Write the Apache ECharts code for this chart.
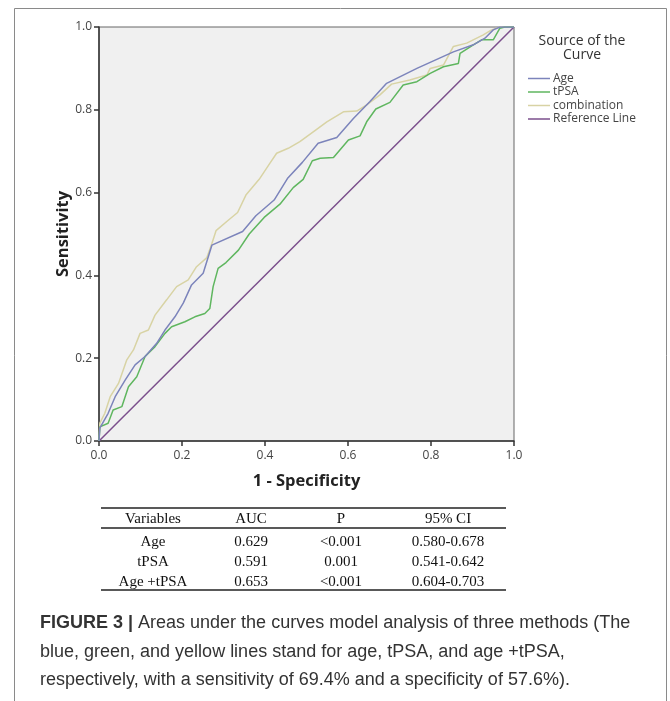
<!DOCTYPE html>
<html><head><meta charset="utf-8">
<script src="https://cdn.jsdelivr.net/npm/echarts@6/dist/echarts.min.js"></script>
<style>html,body{margin:0;padding:0;background:#fff}#c{width:670px;height:701px}</style>
</head><body><div id="c"></div>
<script>
// ---- data ----
const seriesNames = ['Age', 'tPSA', 'combination', 'Reference Line'];
const ageCurve = [[0,0],[0.002,0.031],[0.022,0.067],[0.039,0.107],[0.063,0.147],[0.087,0.184],[0.111,0.204],[0.139,0.236],[0.159,0.268],[0.183,0.300],[0.203,0.333],[0.223,0.377],[0.251,0.405],[0.272,0.473],[0.346,0.506],[0.378,0.544],[0.422,0.582],[0.454,0.634],[0.490,0.673],[0.528,0.719],[0.573,0.733],[0.613,0.779],[0.653,0.820],[0.693,0.864],[0.766,0.900],[0.854,0.940],[0.902,0.957],[0.930,0.973],[0.950,0.993],[0.966,1.0],[1,1]];
const tpsaCurve = [[0,0],[0.002,0.034],[0.022,0.043],[0.034,0.075],[0.055,0.083],[0.071,0.131],[0.091,0.155],[0.111,0.204],[0.135,0.228],[0.159,0.260],[0.175,0.276],[0.207,0.288],[0.231,0.300],[0.255,0.308],[0.267,0.320],[0.275,0.373],[0.287,0.417],[0.306,0.431],[0.336,0.461],[0.362,0.500],[0.398,0.540],[0.436,0.572],[0.468,0.612],[0.492,0.632],[0.514,0.677],[0.533,0.683],[0.565,0.685],[0.601,0.727],[0.629,0.737],[0.645,0.771],[0.667,0.802],[0.701,0.818],[0.733,0.860],[0.766,0.868],[0.798,0.888],[0.830,0.904],[0.866,0.912],[0.870,0.936],[0.902,0.957],[0.922,0.969],[0.950,0.969],[0.966,0.997],[0.978,1.0],[1,1]];
const comboCurve = [[0,0],[0.002,0.043],[0.014,0.067],[0.027,0.107],[0.047,0.139],[0.067,0.196],[0.083,0.220],[0.099,0.260],[0.119,0.268],[0.135,0.304],[0.163,0.341],[0.187,0.373],[0.215,0.389],[0.235,0.421],[0.260,0.443],[0.272,0.477],[0.282,0.508],[0.310,0.532],[0.334,0.552],[0.354,0.594],[0.386,0.632],[0.412,0.671],[0.428,0.695],[0.456,0.707],[0.484,0.723],[0.522,0.751],[0.549,0.771],[0.589,0.795],[0.621,0.797],[0.645,0.812],[0.677,0.836],[0.705,0.862],[0.749,0.872],[0.790,0.884],[0.798,0.900],[0.830,0.908],[0.854,0.953],[0.886,0.961],[0.926,0.981],[0.946,0.993],[0.966,1.0],[1,1]];
const referenceLine = [[0,0],[1,1]];
const tableHeader = ['Variables', 'AUC', 'P', '95% CI'];
const tableRows = [
  ['Age', '0.629', '<0.001', '0.580-0.678'],
  ['tPSA', '0.591', '0.001', '0.541-0.642'],
  ['Age +tPSA', '0.653', '<0.001', '0.604-0.703']
];
const captionBold = 'FIGURE 3 |';
const captionLines = [
  ' Areas under the curves model analysis of three methods (The',
  'blue, green, and yellow lines stand for age, tPSA, and age +tPSA,',
  'respectively, with a sensitivity of 69.4% and a specificity of 57.6%).'
];

// ---- chart ----
const chart = echarts.init(document.getElementById('c'), null, {renderer: 'canvas'});
const colors = ['#7c84bb', '#5fb65f', '#d8d3a4', '#7b4f8c'];
const sansUI = '"Open Sans", "DejaVu Sans", sans-serif';
const colX = [153, 251, 341, 448];
const rowY = [542, 562, 582];
const graphics = [
  {type: 'rect', shape: {x: 14.5, y: 8.5, width: 652, height: 720}, style: {fill: 'none', stroke: '#8a8a8a', lineWidth: 1}, silent: true},
  {type: 'text', x: 582, y: 41, style: {text: 'Source of the', font: '14px ' + sansUI, fill: '#333', align: 'center', verticalAlign: 'middle'}},
  {type: 'text', x: 582, y: 55, style: {text: 'Curve', font: '14px ' + sansUI, fill: '#333', align: 'center', verticalAlign: 'middle'}},
  {type: 'line', shape: {x1: 101, y1: 508, x2: 506, y2: 508}, style: {stroke: '#222', lineWidth: 1.5}},
  {type: 'line', shape: {x1: 101, y1: 528, x2: 506, y2: 528}, style: {stroke: '#222', lineWidth: 1.5}},
  {type: 'line', shape: {x1: 101, y1: 590, x2: 506, y2: 590}, style: {stroke: '#222', lineWidth: 1.5}}
];
tableHeader.forEach((t, i) => graphics.push({type: 'text', x: colX[i], y: 519, style: {text: t, font: '15px "Liberation Serif", serif', fill: '#111', align: 'center', verticalAlign: 'middle'}}));
tableRows.forEach((r, j) => r.forEach((t, i) => graphics.push({type: 'text', x: colX[i], y: rowY[j], style: {text: t, font: '15px "Liberation Serif", serif', fill: '#111', align: 'center', verticalAlign: 'middle'}})));
const capFont = '"Liberation Sans", sans-serif';
graphics.push({type: 'text', x: 40, y: 623, style: {
  text: '{b|' + captionBold + '}{n|' + captionLines[0] + '}',
  verticalAlign: 'middle',
  rich: {b: {fontFamily: capFont, fontWeight: 'bold', fontSize: 18, fill: '#333', color: '#333'},
         n: {fontFamily: capFont, fontSize: 18, fill: '#333', color: '#333'}}
}});
graphics.push({type: 'text', x: 40, y: 652, style: {text: captionLines[1], font: '18px ' + capFont, fill: '#333', verticalAlign: 'middle'}});
graphics.push({type: 'text', x: 40, y: 680, style: {text: captionLines[2], font: '18px ' + capFont, fill: '#333', verticalAlign: 'middle'}});

const mk = (name, data, color) => ({
  name, type: 'line', data, showSymbol: false, symbol: 'none', animation: false,
  lineStyle: {color, width: 1.5}, itemStyle: {color}
});

chart.setOption({
  animation: false,
  backgroundColor: '#fff',
  color: colors,
  grid: {left: 99, top: 27, width: 415, height: 414, show: true, backgroundColor: '#f0f0f0', borderColor: '#666', borderWidth: 1},
  legend: {
    data: seriesNames, orient: 'vertical', left: 528, top: 72, padding: 0,
    icon: 'rect', itemWidth: 22, itemHeight: 1.5, itemGap: 0.5,
    textStyle: {fontFamily: sansUI, fontSize: 12, color: '#444', lineHeight: 13, padding: [0, 0, 0, -2]}
  },
  xAxis: {
    type: 'value', min: 0, max: 1, interval: 0.2,
    name: '1 - Specificity', nameLocation: 'middle', nameGap: 32, nameMoveOverlap: false,
    nameTextStyle: {fontFamily: sansUI, fontWeight: 'bold', fontSize: 16.5, color: '#222'},
    axisLine: {show: true, onZero: false, lineStyle: {color: '#333', width: 1.5}},
    axisTick: {show: true, length: 5, lineStyle: {color: '#333', width: 1.5}},
    axisLabel: {margin: 9, fontFamily: sansUI, fontSize: 12, color: '#444', formatter: v => v.toFixed(1)},
    splitLine: {show: false}
  },
  yAxis: {
    type: 'value', min: 0, max: 1, interval: 0.2,
    name: 'Sensitivity', nameLocation: 'middle', nameGap: 27, nameMoveOverlap: false,
    nameTextStyle: {fontFamily: sansUI, fontWeight: 'bold', fontSize: 16.5, color: '#222'},
    axisLine: {show: true, onZero: false, lineStyle: {color: '#333', width: 1.5}},
    axisTick: {show: true, length: 5, lineStyle: {color: '#333', width: 1.5}},
    axisLabel: {margin: 7, fontFamily: sansUI, fontSize: 12, color: '#444', formatter: v => v.toFixed(1)},
    splitLine: {show: false}
  },
  series: [
    mk(seriesNames[3], referenceLine, colors[3]),
    mk(seriesNames[2], comboCurve, colors[2]),
    mk(seriesNames[1], tpsaCurve, colors[1]),
    mk(seriesNames[0], ageCurve, colors[0])
  ],
  graphic: graphics
});
</script></body></html>
